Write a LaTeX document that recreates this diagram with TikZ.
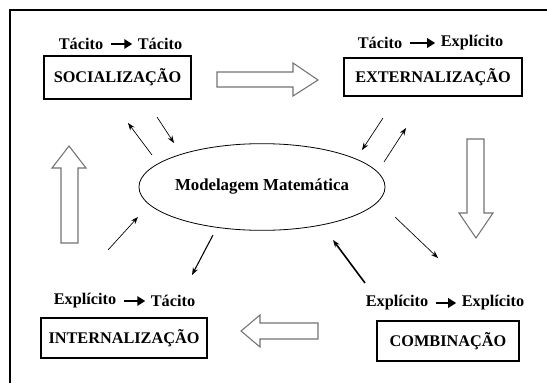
\documentclass[tikz,border=0pt]{standalone}
\usepackage{fontspec}
\setmainfont{Liberation Serif}
\usetikzlibrary{arrows.meta,positioning,shapes.geometric}

\begin{document}
\begin{tikzpicture}
	[x=0.75pt,y=-0.75pt,
	modo/.style={draw,line width=1.3pt,inner sep=0pt,font=\bfseries\fontsize{12.2}{14}\selectfont},
	tipo/.style={inner sep=1pt,font=\bfseries\fontsize{12.2}{14}\selectfont},
	seta/.style={-{Stealth[length=5.5pt,width=4pt]},line width=0.5pt},
	bloco/.style={draw=black!55,line width=0.8pt,fill=white},
	troca/.style={-{Triangle[length=6pt,width=7pt]},line width=2pt,shorten <=5pt,shorten >=3pt}]
	\useasboundingbox (0,0) rectangle (547,383);
	\draw[line width=1.4pt] (10,383) -- (10,10) -- (547,10);
	% quatro modos
	\node[modo,minimum width=110pt,minimum height=32pt] (soc) at (117.5,77.5) {SOCIALIZAÇÃO};
	\node[modo,minimum width=133pt,minimum height=28.5pt] (ext) at (433,77) {EXTERNALIZAÇÃO};
	\node[modo,minimum width=124pt,minimum height=30pt] (int) at (124,338) {INTERNALIZAÇÃO};
	\node[modo,minimum width=106pt,minimum height=30pt] (comb) at (448,341) {COMBINAÇÃO};
	% rotulos
	\node[tipo] (soc-de) at (81,44) {Tácito};
	\node[tipo] (soc-para) at (160,44) {Tácito};
	\draw[troca] (soc-de) -- (soc-para);
	\node[tipo] (ext-de) at (380,43) {Tácito};
	\node[tipo] (ext-para) at (472,43) {Explícito};
	\draw[troca] (ext-de) -- (ext-para);
	\node[tipo] (int-de) at (85,301) {Explícito};
	\node[tipo] (int-para) at (173,301) {Tácito};
	\draw[troca] (int-de) -- (int-para);
	\node[tipo] (comb-de) at (397,303) {Explícito};
	\node[tipo] (comb-para) at (493,303) {Explícito};
	\draw[troca] (comb-de) -- (comb-para);
	% centro
	\node[draw,ellipse,line width=0.6pt,minimum width=182pt,minimum height=65pt,inner sep=0pt,
		font=\bfseries\fontsize{12.6}{14}\selectfont] (mm) at (262,187) {Modelagem Matemática};
	% setas grandes
	\draw[bloco] (217,72) -- (293,72) -- (293,63) -- (318,80) -- (293,96) -- (293,87) -- (217,87) -- cycle;
	\draw[bloco] (467,139) -- (484,139) -- (484,213) -- (493,213) -- (476,238) -- (459,213) -- (467,213) -- cycle;
	\draw[bloco] (318,323) -- (260,323) -- (260,315) -- (241,331) -- (260,347) -- (260,339) -- (318,339) -- cycle;
	\draw[bloco] (61,243) -- (61,168) -- (52,168) -- (69,146) -- (86,168) -- (78,168) -- (78,243) -- cycle;
	% setas pequenas
	\coordinate (a1) at (152,155); \coordinate (a2) at (128,123);
	\coordinate (b1) at (157,117); \coordinate (b2) at (174,143);
	\coordinate (c1) at (383,118); \coordinate (c2) at (362,150);
	\coordinate (d1) at (384,162); \coordinate (d2) at (406,128);
	\coordinate (e1) at (395,217); \coordinate (e2) at (438,258);
	\coordinate (f1) at (365,283); \coordinate (f2) at (333,240);
	\coordinate (g1) at (213,235); \coordinate (g2) at (192,275);
	\coordinate (h1) at (108,250); \coordinate (h2) at (138,217);
	\draw[seta] (a1) -- (a2);
	\draw[seta] (b1) -- (b2);
	\draw[seta] (c1) -- (c2);
	\draw[seta] (d1) -- (d2);
	\draw[seta] (e1) -- (e2);
	\draw[seta,line width=1.2pt] (f1) -- (f2);
	\draw[seta,line width=0.8pt] (g1) -- (g2);
	\draw[seta] (h1) -- (h2);
\end{tikzpicture}
\end{document}
